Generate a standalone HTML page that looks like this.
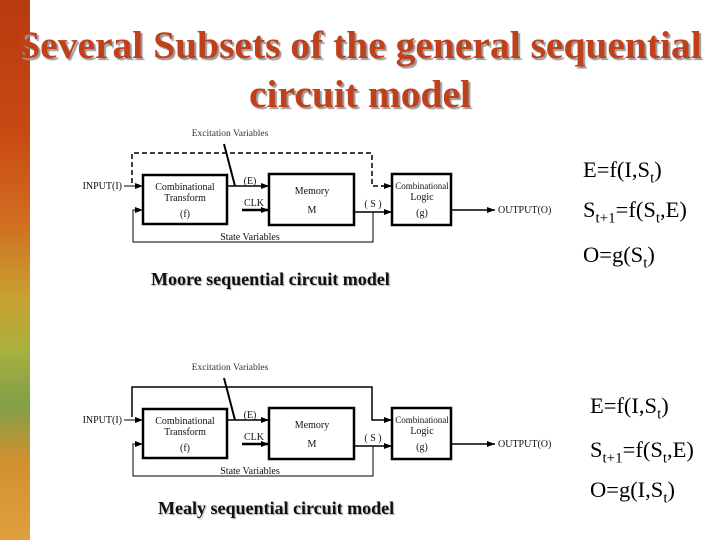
<!DOCTYPE html>
<html><head><meta charset="utf-8"><style>
body{margin:0;width:720px;height:540px;overflow:hidden;background:#fff;position:relative;font-family:"Liberation Serif",serif}
.strip{position:absolute;left:0;top:0;width:30px;height:540px;background:linear-gradient(180deg,#b83a10 0%,#c84a12 25%,#d06a20 40%,#c8a030 55%,#a8b040 65%,#80a048 75%,#d09030 85%,#e0a040 100%)}
.title{position:absolute;left:0;width:720px;text-align:center;color:#c0401c;font-weight:bold;font-size:39.5px;text-shadow:2px 2px 1px #999;line-height:1}
.cap{position:absolute;font-weight:bold;font-size:18px;color:#111;text-shadow:1px 1px 1px #aaa}
.eq{position:absolute;font-size:22.5px;color:#000}
sub{font-size:15px}
</style></head><body>
<div class="strip"></div>
<div class="title" style="top:26px">Several Subsets of the general sequential</div>
<div class="title" style="top:75px">circuit model</div>
<svg width="720" height="540" style="position:absolute;left:0;top:0" font-family="Liberation Serif, serif">
<defs><marker id="a" markerWidth="8" markerHeight="6" refX="8" refY="3" orient="auto" markerUnits="userSpaceOnUse"><path d="M0,0L8,3L0,6z" fill="#000"/></marker></defs>
<g id="d1" stroke="#000" fill="none">
<text x="230" y="136" font-size="9.5" text-anchor="middle" fill="#333" stroke="none">Excitation Variables</text>
<rect x="143" y="175" width="84" height="49" stroke-width="2.5"/>
<rect x="269" y="174" width="85" height="51" stroke-width="2.5"/>
<rect x="392" y="174" width="59" height="51" stroke-width="2.5"/>
<path d="M124,186H143" marker-end="url(#a)"/>
<path d="M227,186H269" stroke-width="1.5" marker-end="url(#a)"/>
<path d="M224,144L235,186" stroke-width="2"/>
<path d="M242,210H269" stroke-width="2.5" marker-end="url(#a)"/>
<path d="M354,212H392" stroke-width="1.5" marker-end="url(#a)"/>
<path d="M373,212V242H133V210H143" marker-end="url(#a)"/>
<path d="M451,210H495" stroke-width="1.5" marker-end="url(#a)"/>
<g stroke="none" fill="#111" font-size="10" text-anchor="middle">
<text x="185" y="190">Combinational</text><text x="185" y="201">Transform</text><text x="185" y="217">(f)</text>
<text x="312" y="194">Memory</text><text x="312" y="213">M</text>
<text x="422" y="189" font-size="9">Combinational</text><text x="422" y="200">Logic</text><text x="422" y="216">(g)</text>
<text x="250" y="184">(E)</text><text x="254" y="206">CLK</text><text x="373" y="207">( S )</text>
<text x="250" y="240">State Variables</text>
<text x="122" y="189" text-anchor="end">INPUT(I)</text><text x="498" y="213" text-anchor="start">OUTPUT(O)</text>
</g>
</g>
<path d="M132,183V153H372V186H392" stroke="#000" fill="none" stroke-width="1.5" stroke-dasharray="5,3" marker-end="url(#a)"/>
<use href="#d1" transform="translate(0,234)"/>
<path d="M132,417V387H372V420H392" stroke="#000" fill="none" stroke-width="1.5" marker-end="url(#a)"/>
</svg>
<div class="cap" style="left:151px;top:269px">Moore sequential circuit model</div>
<div class="cap" style="left:158px;top:498px">Mealy sequential circuit model</div>
<div class="eq" style="left:583px;top:157px">E=f(I,S<sub>t</sub>)</div>
<div class="eq" style="left:583px;top:197px">S<sub>t+1</sub>=f(S<sub>t</sub>,E)</div>
<div class="eq" style="left:583px;top:242px">O=g(S<sub>t</sub>)</div>
<div class="eq" style="left:590px;top:393px">E=f(I,S<sub>t</sub>)</div>
<div class="eq" style="left:590px;top:437px">S<sub>t+1</sub>=f(S<sub>t</sub>,E)</div>
<div class="eq" style="left:590px;top:477px">O=g(I,S<sub>t</sub>)</div>
</body></html>
